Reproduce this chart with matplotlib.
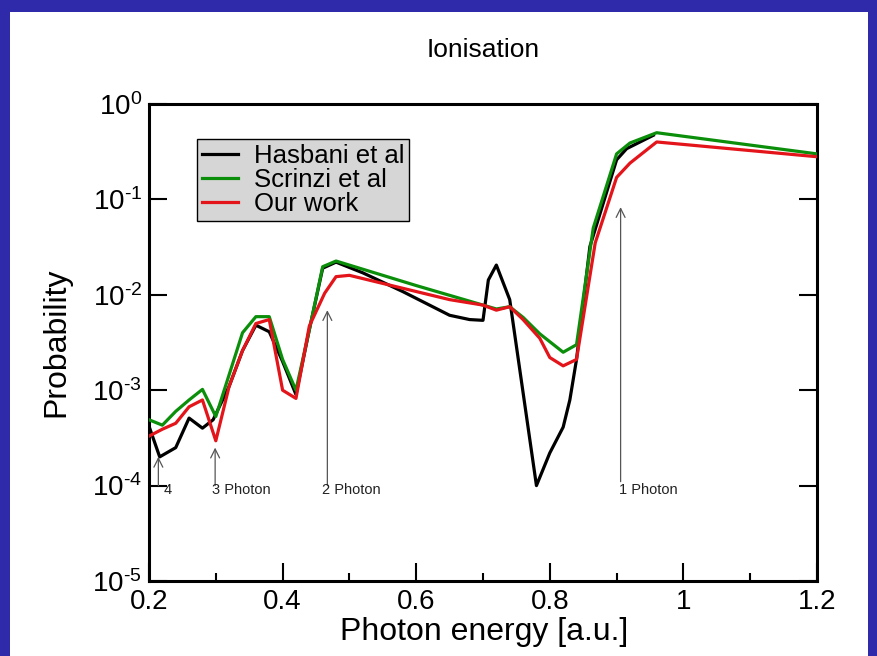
import math
import matplotlib
matplotlib.use("Agg")
import matplotlib.pyplot as plt
from matplotlib.patches import Rectangle
from matplotlib.ticker import FixedLocator, FuncFormatter

plt.rcParams["font.family"] = ["Liberation Sans", "DejaVu Sans"]
plt.rcParams["mathtext.fontset"] = "custom"
plt.rcParams["mathtext.rm"] = "Liberation Sans"

BLUE = "#2e2aaa"
GREEN = "#0b8f0b"
RED = "#e3141a"
ARROW = "#555555"

# Hasbani et al
hx = [0.20, 0.216, 0.24, 0.26, 0.28, 0.296, 0.32, 0.34, 0.36, 0.38, 0.40, 0.42,
      0.44, 0.46, 0.48, 0.52, 0.58, 0.65, 0.68, 0.70, 0.708, 0.72, 0.74, 0.78,
      0.80, 0.82, 0.83, 0.84, 0.86, 0.90, 0.915, 0.955]
hy = [4.2e-4, 2.0e-4, 2.5e-4, 5.1e-4, 4.0e-4, 4.9e-4, 1.1e-3, 2.6e-3, 4.8e-3,
      4.1e-3, 2.0e-3, 9.0e-4, 4.3e-3, 1.9e-2, 2.2e-2, 1.7e-2, 1.08e-2, 6.1e-3,
      5.5e-3, 5.4e-3, 1.43e-2, 2.05e-2, 8.9e-3, 1.0e-4, 2.2e-4, 4.1e-4, 7.9e-4,
      2.1e-3, 3.2e-2, 0.26, 0.34, 0.47]

# Scrinzi et al
sx = [0.20, 0.22, 0.24, 0.26, 0.28, 0.30, 0.34, 0.36, 0.38, 0.40, 0.42, 0.44,
      0.46, 0.48, 0.60, 0.70, 0.72, 0.74, 0.76, 0.785, 0.82, 0.84, 0.865, 0.90,
      0.92, 0.96, 1.20]
sy = [4.9e-4, 4.3e-4, 6.0e-4, 7.9e-4, 1.02e-3, 5.3e-4, 4.0e-3, 5.9e-3, 5.9e-3,
      2.1e-3, 1.0e-3, 4.3e-3, 1.97e-2, 2.26e-2, 1.25e-2, 7.8e-3, 7.1e-3, 7.5e-3,
      5.8e-3, 3.9e-3, 2.5e-3, 3.0e-3, 5.0e-2, 0.30, 0.39, 0.50, 0.30]

# Our work
ox = [0.20, 0.22, 0.24, 0.26, 0.28, 0.30, 0.32, 0.34, 0.36, 0.38, 0.40, 0.42,
      0.44, 0.463, 0.48, 0.50, 0.58, 0.65, 0.70, 0.72, 0.74, 0.76, 0.785, 0.80,
      0.82, 0.84, 0.868, 0.90, 0.92, 0.96, 1.20]
oy = [3.3e-4, 3.9e-4, 4.5e-4, 6.7e-4, 7.9e-4, 2.95e-4, 1.1e-3, 2.6e-3, 5.0e-3,
      5.5e-3, 1.0e-3, 8.2e-4, 4.7e-3, 1.04e-2, 1.55e-2, 1.6e-2, 1.17e-2, 8.9e-3,
      7.8e-3, 6.9e-3, 7.5e-3, 5.5e-3, 3.5e-3, 2.2e-3, 1.8e-3, 2.1e-3, 3.5e-2,
      0.17, 0.24, 0.40, 0.28]

# photon order markers
arrow_x = [0.214, 0.299, 0.467, 0.906]
arrow_top = [2.0e-4, 2.5e-4, 6.9e-3, 8.3e-2]
arrow_bot = [1.0e-4, 1.0e-4, 1.0e-4, 1.1e-4]
arrow_lab = ["4", "3 Photon", "2 Photon", "1 Photon"]
lab_x = [0.222, 0.295, 0.459, 0.904]

xticks = [0.2, 0.4, 0.6, 0.8, 1.0, 1.2]
xminor = [0.3, 0.5, 0.7, 0.9, 1.1]
yticks = [1e-5, 1e-4, 1e-3, 1e-2, 1e-1, 1e0]


def decade(v, pos):
    e = round(math.log10(v))
    s = str(e).replace("-", "\N{HYPHEN}")
    return r"$\mathregular{10^{%s}}$" % s


fig = plt.figure(figsize=(8.77, 6.56), dpi=100, facecolor=BLUE)
fig.patches.append(Rectangle((10 / 877, 0), 858 / 877, 644 / 656,
                             transform=fig.transFigure, facecolor="white",
                             edgecolor="none", zorder=-10))
ax = fig.add_axes([149 / 877, 1 - 581 / 656, 668 / 877, 477 / 656])
ax.set_zorder(1)

ax.plot(hx, hy, color="black", lw=2.3, label="Hasbani et al", zorder=3)
ax.plot(sx, sy, color=GREEN, lw=2.3, label="Scrinzi et al", zorder=4)
ax.plot(ox, oy, color=RED, lw=2.3, label="Our work", zorder=5)

for x, yt, yb, lab, lx in zip(arrow_x, arrow_top, arrow_bot, arrow_lab, lab_x):
    ax.annotate("", xy=(x, yt), xytext=(x, yb),
                arrowprops=dict(arrowstyle="->", color=ARROW, lw=0.9,
                                mutation_scale=16, shrinkA=0, shrinkB=0))
    ax.text(lx, 9.0e-5, lab, fontsize=10.5, ha="left", va="center", color="#222222")

ax.set_yscale("log")
ax.set_xlim(0.2, 1.2)
ax.set_ylim(1e-5, 1)

ax.xaxis.set_major_locator(FixedLocator(xticks))
ax.xaxis.set_minor_locator(FixedLocator(xminor))
ax.xaxis.set_major_formatter(FuncFormatter(lambda v, p: "%g" % v))
ax.yaxis.set_major_locator(FixedLocator(yticks))
ax.yaxis.set_minor_locator(FixedLocator([]))
ax.yaxis.set_major_formatter(FuncFormatter(decade))

ax.tick_params(axis="both", which="major", direction="in", length=13, width=1.5,
               labelsize=20)
ax.tick_params(axis="x", which="major", pad=6)
ax.tick_params(axis="y", which="major", pad=5, right=True)
ax.tick_params(axis="x", which="minor", direction="in", length=6, width=1.5)
for s in ax.spines.values():
    s.set_linewidth(2.2)

leg = ax.legend(loc="upper left", bbox_to_anchor=(48 / 668, 1 - 35 / 477),
                fontsize=18.5, frameon=True, fancybox=False, handlelength=1.4,
                handletextpad=0.6, borderpad=0.2, labelspacing=0.0,
                borderaxespad=0)
leg.get_frame().set_facecolor("#d6d6d6")
leg.get_frame().set_edgecolor("black")
leg.get_frame().set_linewidth(1.0)
leg.get_frame().set_alpha(1)

fig.text(483 / 877, 1 - 50 / 656, "Ionisation", fontsize=19, ha="center", va="center")
fig.text(484 / 877, 1 - 632 / 656, "Photon energy [a.u.]", fontsize=23,
         ha="center", va="center")
fig.text(56 / 877, 1 - 342 / 656, "Probability", fontsize=23, rotation=90,
         ha="center", va="center")

fig.savefig("out.png", dpi=100, facecolor=BLUE)
